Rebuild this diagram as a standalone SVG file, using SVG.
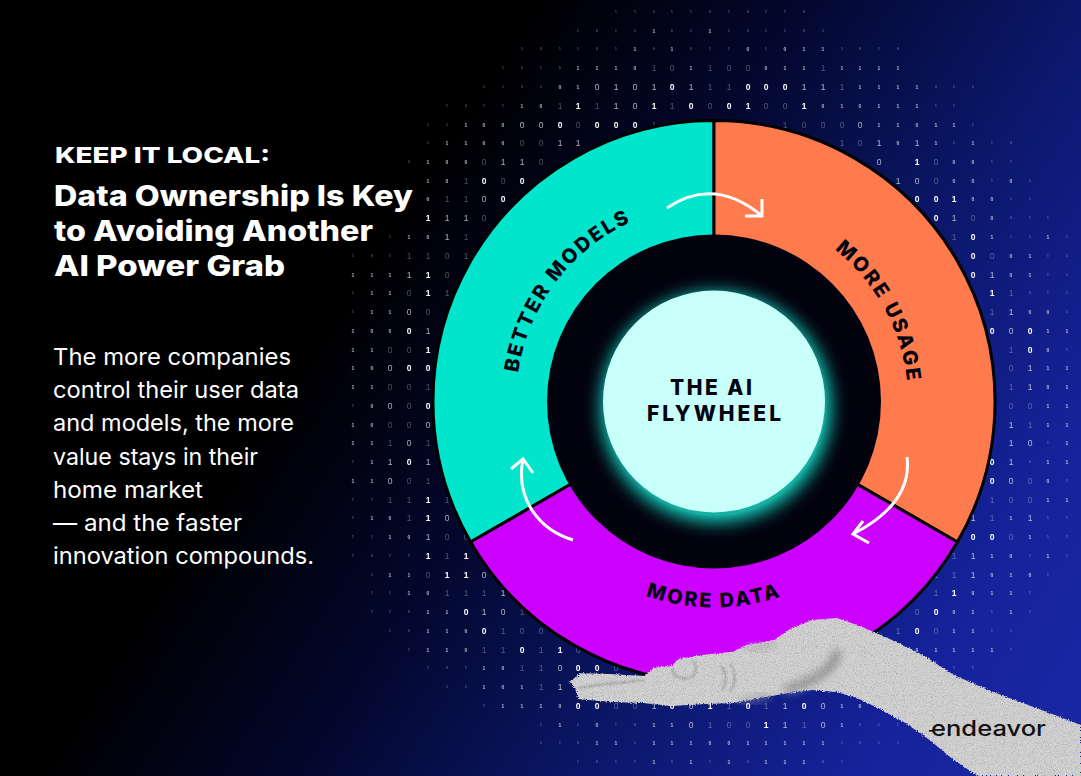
<svg xmlns="http://www.w3.org/2000/svg" width="1081" height="776" viewBox="0 0 1081 776">
<style>
text{font-family:"Inter","Liberation Sans",sans-serif}
#digits{opacity:.995}
#digits text{font-family:"Liberation Sans",sans-serif;fill:#fff;text-anchor:middle;font-size:8.5px}
.a{font-weight:700}
.m{fill-opacity:.68}
.f{fill-opacity:.3}
.c{font-size:5px;font-weight:700;fill-opacity:.68;baseline-shift:1px}
.d{font-size:3.2px;font-weight:700;fill-opacity:.36;baseline-shift:1.8px}
.h{fill:#fff;font-weight:800}
.b{fill:#fff;font-size:23px;font-weight:400}
.lab{font-weight:800;fill:#02020f;font-size:20px;letter-spacing:2.3px;text-anchor:middle}
.hub{font-weight:800;fill:#02020f;font-size:21px;letter-spacing:2px}
.seg{stroke:#000;stroke-width:3;stroke-linejoin:miter}
.flow{fill:none;stroke:#fff;stroke-width:3}
</style>
<defs>
<linearGradient id="bg" gradientUnits="userSpaceOnUse" x1="378" y1="242" x2="1118.6" y2="717.4">
<stop offset="0" stop-color="#000"/><stop offset=".25" stop-color="#03072c"/><stop offset=".52" stop-color="#0b1768"/><stop offset=".78" stop-color="#15229a"/><stop offset="1" stop-color="#1a28a5"/>
</linearGradient>
<radialGradient id="glow" gradientUnits="userSpaceOnUse" cx="716" cy="407" r="135">
<stop offset=".8" stop-color="#14b0a2"/><stop offset=".86" stop-color="#0c7a74" stop-opacity=".75"/><stop offset=".93" stop-color="#06383a" stop-opacity=".35"/><stop offset="1" stop-color="#02020f" stop-opacity="0"/>
</radialGradient>
<filter id="grain" x="-3%" y="-5%" width="106%" height="110%" color-interpolation-filters="sRGB">
<feTurbulence type="fractalNoise" baseFrequency=".8" numOctaves="2" seed="3" result="n"/>
<feDisplacementMap in="SourceGraphic" in2="n" scale="3.5" xChannelSelector="R" yChannelSelector="G" result="d"/>
<feTurbulence type="fractalNoise" baseFrequency="1.1" numOctaves="2" seed="8" result="g"/>
<feColorMatrix in="g" type="matrix" values=".42 0 0 0 .76  .42 0 0 0 .76  .42 0 0 0 .76  0 0 0 0 1" result="gg"/>
<feBlend in="d" in2="gg" mode="multiply" result="m"/>
<feComposite in="m" in2="d" operator="in"/>
</filter>
<filter id="soft" x="-40%" y="-40%" width="180%" height="180%"><feGaussianBlur stdDeviation="4"/></filter>
<filter id="soft2" x="-40%" y="-40%" width="180%" height="180%"><feGaussianBlur stdDeviation=".8"/></filter>
<path id="p-better" d="M518.4 370.5A198 198 0 0 1 630.2 222.1"/>
<path id="p-usage" d="M825.3 242.6A194 194 0 0 1 907.9 394.7"/>
<path id="p-data" d="M627 588.2A206 206 0 0 0 801 588.2"/>
</defs>
<rect id="background" width="1081" height="776" fill="url(#bg)"/>
<g id="digits">
<text y="15"><tspan class="d" x="616 635 654 672 691 710 729 748 766 785 804">11011010110</tspan></text>
<text y="34"><tspan class="d" x="578 597 616 635">1011</tspan><tspan class="c" x="654">1</tspan><tspan class="d" x="672 691">01</tspan><tspan class="c" x="710">1</tspan><tspan class="d" x="729 748 766 785 804 823">101101</tspan></text>
<text y="52"><tspan class="d" x="522 541 560 578 597 616">101101</tspan><tspan class="c" x="635">1</tspan><tspan class="d" x="654">0</tspan><tspan class="c" x="672">1</tspan><tspan class="d" x="691 710 729">011</tspan><tspan class="c" x="748">0</tspan><tspan class="d" x="766">1</tspan><tspan class="c" x="785 804 823">011</tspan><tspan class="d" x="842 860 879 898">1010</tspan></text>
<text y="71"><tspan class="d" x="503 522 541 560">1010</tspan><tspan class="c" x="578 597 616 635">1110</tspan><tspan class="f" x="654 672">10</tspan><tspan class="c" x="691">1</tspan><tspan class="f" x="710 729 748">100</tspan><tspan class="c" x="766 785 804">011</tspan><tspan class="f" x="823">1</tspan><tspan class="c" x="842 860 879 898">1111</tspan></text>
<text y="90"><tspan class="d" x="484 503 522 541">1101</tspan><tspan class="c" x="560 578">01</tspan><tspan class="m" x="597 616 635 654">0101</tspan><tspan class="a" x="672">0</tspan><tspan class="m" x="691">1</tspan><tspan class="f" x="710 729">11</tspan><tspan class="a" x="748 766 785">000</tspan><tspan class="m" x="804 823">11</tspan><tspan class="f" x="842">1</tspan><tspan class="c" x="860 879 898 917">1111</tspan><tspan class="d" x="936 954 973">011</tspan></text>
<text y="109"><tspan class="d" x="447 466 484 503">1011</tspan><tspan class="c" x="522 541">10</tspan><tspan class="f" x="560">1</tspan><tspan class="a" x="578">1</tspan><tspan class="f" x="597">1</tspan><tspan class="m" x="616 635">10</tspan><tspan class="a" x="654">1</tspan><tspan class="f" x="672">1</tspan><tspan class="a" x="691">0</tspan><tspan class="f" x="710">0</tspan><tspan class="a" x="729 748">01</tspan><tspan class="f" x="766 785">00</tspan><tspan class="a" x="804">1</tspan><tspan class="c" x="823 842 860 879 898 917">010111</tspan><tspan class="d" x="936 954">11</tspan></text>
<text y="128"><tspan class="d" x="428 447">11</tspan><tspan class="c" x="466 484 503">100</tspan><tspan class="m" x="522 541">00</tspan><tspan class="a" x="560">0</tspan><tspan class="f" x="578">0</tspan><tspan class="a" x="597 616 635">000</tspan><tspan class="f" x="654">1</tspan><tspan class="f" x="785 804 823 842">1000</tspan><tspan class="m" x="860">0</tspan><tspan class="c" x="879 898 917 936 954">11011</tspan><tspan class="d" x="973">1</tspan></text>
<text y="146"><tspan class="d" x="428">1</tspan><tspan class="c" x="447 466 484 503">1100</tspan><tspan class="f" x="522 541">00</tspan><tspan class="m" x="560 578">11</tspan><tspan class="f" x="842 860">10</tspan><tspan class="m" x="879">1</tspan><tspan class="c" x="898">0</tspan><tspan class="m" x="917">1</tspan><tspan class="c" x="936">1</tspan><tspan class="d" x="954">1</tspan><tspan class="c" x="973">1</tspan><tspan class="d" x="992 1011">10</tspan></text>
<text y="165"><tspan class="d" x="409">0</tspan><tspan class="c" x="428 447 466">100</tspan><tspan class="f" x="484">0</tspan><tspan class="m" x="503 522">11</tspan><tspan class="f" x="541">0</tspan><tspan class="m" x="879">0</tspan><tspan class="a" x="917">1</tspan><tspan class="f" x="936">0</tspan><tspan class="c" x="954 973">00</tspan><tspan class="d" x="992 1011">11</tspan></text>
<text y="184"><tspan class="c" x="428 447">10</tspan><tspan class="f" x="466">1</tspan><tspan class="a" x="484">0</tspan><tspan class="f" x="503">0</tspan><tspan class="a" x="522">0</tspan><tspan class="m" x="898 917">10</tspan><tspan class="f" x="936">0</tspan><tspan class="c" x="954 973">00</tspan><tspan class="d" x="992">1</tspan><tspan class="c" x="1011">0</tspan><tspan class="d" x="1030">1</tspan></text>
<text y="202"><tspan class="c" x="428">0</tspan><tspan class="f" x="447 466">11</tspan><tspan class="m" x="484">0</tspan><tspan class="a" x="503">0</tspan><tspan class="a" x="917 936 954">001</tspan><tspan class="c" x="973 992">00</tspan><tspan class="d" x="1011 1030">11</tspan></text>
<text y="221"><tspan class="a" x="428">1</tspan><tspan class="m" x="447 466">11</tspan><tspan class="f" x="484">0</tspan><tspan class="a" x="936">0</tspan><tspan class="m" x="954">1</tspan><tspan class="f" x="973">0</tspan><tspan class="c" x="992">0</tspan><tspan class="d" x="1011 1030 1048">011</tspan></text>
<text y="240"><tspan class="d" x="390">1</tspan><tspan class="c" x="409 428">10</tspan><tspan class="m" x="447">1</tspan><tspan class="f" x="466">1</tspan><tspan class="f" x="954">1</tspan><tspan class="a" x="973">0</tspan><tspan class="c" x="992">1</tspan><tspan class="d" x="1011 1030">11</tspan><tspan class="c" x="1048">1</tspan><tspan class="d" x="1067">1</tspan></text>
<text y="259"><tspan class="d" x="353 372 390">101</tspan><tspan class="f" x="409 428 447 466">1101</tspan><tspan class="a" x="973">0</tspan><tspan class="f" x="992">0</tspan><tspan class="c" x="1011 1030">01</tspan><tspan class="d" x="1048 1067">11</tspan></text>
<text y="278"><tspan class="c" x="353 372 390">111</tspan><tspan class="m" x="409">1</tspan><tspan class="a" x="428">1</tspan><tspan class="f" x="447">0</tspan><tspan class="a" x="973">0</tspan><tspan class="m" x="992">1</tspan><tspan class="c" x="1011 1030">01</tspan><tspan class="d" x="1048 1067">11</tspan></text>
<text y="296"><tspan class="d" x="353">1</tspan><tspan class="c" x="372 390">11</tspan><tspan class="f" x="409">0</tspan><tspan class="a" x="428">1</tspan><tspan class="f" x="447">1</tspan><tspan class="a" x="992">1</tspan><tspan class="f" x="1011">1</tspan><tspan class="d" x="1030 1048 1067">011</tspan></text>
<text y="315"><tspan class="d" x="353">1</tspan><tspan class="c" x="372 390">11</tspan><tspan class="m" x="409">0</tspan><tspan class="f" x="428">0</tspan><tspan class="f" x="992">1</tspan><tspan class="m" x="1011">1</tspan><tspan class="c" x="1030 1048">00</tspan><tspan class="d" x="1067">1</tspan></text>
<text y="334"><tspan class="c" x="353 372 390">100</tspan><tspan class="a" x="409">0</tspan><tspan class="m" x="428">1</tspan><tspan class="a" x="992">0</tspan><tspan class="m" x="1011">0</tspan><tspan class="a" x="1030">0</tspan><tspan class="c" x="1048 1067">11</tspan></text>
<text y="353"><tspan class="c" x="353 372">11</tspan><tspan class="f" x="390 409">00</tspan><tspan class="a" x="428">1</tspan><tspan class="f" x="1011">1</tspan><tspan class="a" x="1030">0</tspan><tspan class="c" x="1048">0</tspan><tspan class="d" x="1067">1</tspan></text>
<text y="371"><tspan class="c" x="353 372">10</tspan><tspan class="m" x="390">0</tspan><tspan class="a" x="409 428">00</tspan><tspan class="f" x="1011">0</tspan><tspan class="m" x="1030">1</tspan><tspan class="c" x="1048 1067">11</tspan></text>
<text y="390"><tspan class="c" x="353 372">11</tspan><tspan class="f" x="390 409 428">001</tspan><tspan class="f" x="1011">1</tspan><tspan class="m" x="1030">1</tspan><tspan class="c" x="1048 1067">01</tspan></text>
<text y="409"><tspan class="d" x="353">1</tspan><tspan class="c" x="372">0</tspan><tspan class="m" x="390">0</tspan><tspan class="f" x="409">0</tspan><tspan class="a" x="428">0</tspan><tspan class="f" x="1011 1030">00</tspan><tspan class="c" x="1048 1067">11</tspan></text>
<text y="428"><tspan class="c" x="353 372">10</tspan><tspan class="f" x="390 409">00</tspan><tspan class="m" x="428">0</tspan><tspan class="m" x="1011">1</tspan><tspan class="f" x="1030">1</tspan><tspan class="c" x="1048 1067">11</tspan></text>
<text y="446"><tspan class="c" x="353 372">11</tspan><tspan class="f" x="390">1</tspan><tspan class="m" x="409">0</tspan><tspan class="f" x="428">1</tspan><tspan class="m" x="1011 1030">10</tspan><tspan class="d" x="1048">1</tspan><tspan class="c" x="1067">1</tspan></text>
<text y="465"><tspan class="d" x="353">1</tspan><tspan class="c" x="372">1</tspan><tspan class="m" x="390">1</tspan><tspan class="a" x="409">0</tspan><tspan class="m" x="428">1</tspan><tspan class="a" x="992">0</tspan><tspan class="m" x="1011">1</tspan><tspan class="d" x="1030">0</tspan><tspan class="c" x="1048 1067">11</tspan></text>
<text y="484"><tspan class="c" x="353 372">11</tspan><tspan class="m" x="390">0</tspan><tspan class="f" x="409 428">01</tspan><tspan class="a" x="992">0</tspan><tspan class="m" x="1011">0</tspan><tspan class="f" x="1030">0</tspan><tspan class="c" x="1048">0</tspan><tspan class="d" x="1067">1</tspan></text>
<text y="503"><tspan class="d" x="353 372">11</tspan><tspan class="f" x="390 409">11</tspan><tspan class="a" x="428">1</tspan><tspan class="f" x="447">1</tspan><tspan class="f" x="992 1011 1030">100</tspan><tspan class="c" x="1048 1067">11</tspan></text>
<text y="521"><tspan class="d" x="353">1</tspan><tspan class="c" x="372 390">10</tspan><tspan class="f" x="409">1</tspan><tspan class="a" x="428">1</tspan><tspan class="m" x="447">0</tspan><tspan class="m" x="973">1</tspan><tspan class="f" x="992">1</tspan><tspan class="c" x="1011">1</tspan><tspan class="m" x="1030">1</tspan><tspan class="d" x="1048 1067">11</tspan></text>
<text y="540"><tspan class="d" x="353 372">11</tspan><tspan class="c" x="390 409">10</tspan><tspan class="m" x="428">1</tspan><tspan class="f" x="447 466">00</tspan><tspan class="a" x="973 992">00</tspan><tspan class="f" x="1011">0</tspan><tspan class="c" x="1030">1</tspan><tspan class="d" x="1048 1067">11</tspan></text>
<text y="559"><tspan class="d" x="353 372 390 409">1011</tspan><tspan class="a" x="428">1</tspan><tspan class="f" x="447">1</tspan><tspan class="a" x="466">1</tspan><tspan class="f" x="954">1</tspan><tspan class="m" x="973">1</tspan><tspan class="c" x="992 1011">10</tspan><tspan class="d" x="1030">1</tspan><tspan class="c" x="1048">1</tspan><tspan class="d" x="1067">1</tspan></text>
<text y="578"><tspan class="d" x="372">1</tspan><tspan class="c" x="390 409">11</tspan><tspan class="f" x="428">0</tspan><tspan class="a" x="447 466">11</tspan><tspan class="m" x="484">0</tspan><tspan class="f" x="936 954">11</tspan><tspan class="m" x="973">1</tspan><tspan class="c" x="992 1011 1030">010</tspan><tspan class="d" x="1048">1</tspan></text>
<text y="596"><tspan class="d" x="372 390">11</tspan><tspan class="c" x="409 428">10</tspan><tspan class="f" x="447 466 484">111</tspan><tspan class="m" x="503">1</tspan><tspan class="f" x="936">1</tspan><tspan class="a" x="954">1</tspan><tspan class="c" x="973 992 1011">011</tspan><tspan class="d" x="1030">1</tspan></text>
<text y="615"><tspan class="d" x="372 390 409">110</tspan><tspan class="c" x="428 447">11</tspan><tspan class="a" x="466">0</tspan><tspan class="m" x="484 503">10</tspan><tspan class="f" x="522">1</tspan><tspan class="f" x="917">0</tspan><tspan class="a" x="936">0</tspan><tspan class="c" x="954 973">01</tspan><tspan class="d" x="992">1</tspan><tspan class="c" x="1011">1</tspan><tspan class="d" x="1030">1</tspan></text>
<text y="634"><tspan class="d" x="390 409">10</tspan><tspan class="c" x="428 447 466">110</tspan><tspan class="a" x="484">0</tspan><tspan class="f" x="503 522 541">100</tspan><tspan class="f" x="898">1</tspan><tspan class="a" x="917">0</tspan><tspan class="f" x="936">0</tspan><tspan class="c" x="954 973">11</tspan><tspan class="d" x="992 1011">11</tspan></text>
<text y="653"><tspan class="d" x="409">1</tspan><tspan class="c" x="428 447 466">110</tspan><tspan class="f" x="484 503">11</tspan><tspan class="a" x="522">0</tspan><tspan class="f" x="541">1</tspan><tspan class="a" x="560">1</tspan><tspan class="f" x="578">0</tspan><tspan class="c" x="917 936 954 973 992">01111</tspan><tspan class="d" x="1011">1</tspan></text>
<text y="671"><tspan class="d" x="428 447 466">101</tspan><tspan class="c" x="484 503">10</tspan><tspan class="f" x="522 541">11</tspan><tspan class="m" x="560">0</tspan><tspan class="a" x="578 597">00</tspan><tspan class="f" x="616">0</tspan><tspan class="d" x="954 973">11</tspan></text>
<text y="690"><tspan class="d" x="447 466">11</tspan><tspan class="c" x="484 503 522">101</tspan><tspan class="f" x="541">1</tspan><tspan class="m" x="560">1</tspan></text>
<text y="709"><tspan class="d" x="484">1</tspan><tspan class="c" x="503 522 541 560">1110</tspan><tspan class="a" x="578 597">00</tspan><tspan class="f" x="616 635">00</tspan><tspan class="m" x="654">1</tspan><tspan class="a" x="672">0</tspan><tspan class="m" x="691">0</tspan><tspan class="a" x="710">1</tspan><tspan class="f" x="729">1</tspan><tspan class="a" x="748">0</tspan><tspan class="f" x="766">1</tspan><tspan class="m" x="785">1</tspan><tspan class="a" x="804">0</tspan><tspan class="m" x="823">0</tspan><tspan class="c" x="842 860">10</tspan></text>
<text y="728"><tspan class="d" x="541">1</tspan><tspan class="c" x="560">1</tspan><tspan class="d" x="578">1</tspan><tspan class="c" x="597">0</tspan><tspan class="d" x="616 635">10</tspan><tspan class="c" x="654 672">11</tspan><tspan class="m" x="691">0</tspan><tspan class="f" x="710 729 748">100</tspan><tspan class="a" x="766">1</tspan><tspan class="m" x="785">1</tspan><tspan class="f" x="804">1</tspan><tspan class="m" x="823">0</tspan><tspan class="c" x="842">1</tspan><tspan class="d" x="860 879 898">011</tspan></text>
<text y="746"><tspan class="d" x="541 560 578">110</tspan><tspan class="c" x="597 616">11</tspan><tspan class="d" x="635">1</tspan><tspan class="c" x="654 672 691 710 729 748 766 785 804 823">1110011111</tspan><tspan class="d" x="842 860 879 898">1011</tspan></text>
<text y="765"><tspan class="d" x="578 597 616 635">1011</tspan><tspan class="c" x="654">1</tspan><tspan class="d" x="672">0</tspan><tspan class="c" x="691">1</tspan><tspan class="d" x="710">1</tspan><tspan class="c" x="729">1</tspan><tspan class="d" x="748">0</tspan><tspan class="c" x="766 785 804">111</tspan><tspan class="d" x="823 842">01</tspan></text>
</g>
<g id="seg-better-models">
<path class="seg" fill="#00e5cc" d="M714 120.5A281 281 0 0 0 470.6 542L714 401.5Z"/>
<text class="lab"><textPath href="#p-better" startOffset="50%">BETTER MODELS</textPath></text>
</g>
<g id="seg-more-usage">
<path class="seg" fill="#ff7a4d" d="M714 120.5A281 281 0 0 1 957.4 542L714 401.5Z"/>
<text class="lab"><textPath href="#p-usage" startOffset="50%">MORE USAGE</textPath></text>
</g>
<g id="seg-more-data">
<path class="seg" fill="#cc00ff" d="M470.6 542A281 281 0 0 0 957.4 542L714 401.5Z"/>
<text class="lab"><textPath href="#p-data" startOffset="50%">MORE DATA</textPath></text>
</g>
<g id="hub">
<circle cx="714" cy="401.5" r="167" fill="#02020f"/>
<circle cx="716" cy="407" r="135" fill="url(#glow)"/>
<circle cx="714" cy="401.5" r="111" fill="#c8fffb"/>
<text class="hub" x="670" y="395" textLength="84">THE AI</text>
<text class="hub" x="647" y="420.5" textLength="136">FLYWHEEL</text>
</g>
<g id="connectors">
<path class="flow" d="M667 208Q714 176 762 216M745 216H762V199"/>
<path class="flow" d="M907 457C911 490 890 515 853 534M863 521L853 534L869 543"/>
<path class="flow" d="M573 540C540 530 515 500 523 459M511 469L523 459L533 473"/>
</g>
<g id="hand" filter="url(#grain)">
<path fill="#d4d4d4" d="M569.3 681.7L581.4 673.3L609 674L643.4 676L653.8 668L672.8 665L678 659L702 655L733 651.7L747 645L774.5 640L791.7 628L812.4 620L836.6 618L857 625L876 633L898.6 643L922.8 655L953.8 675L988 690L1022.8 703L1081 725V776H978L953.8 760L929.7 740L905.5 723L878 708L857 698L836.6 692L812.4 690L788 693L760.7 698L733 703L705.5 704L671 706L643.4 703L612.4 702L578 699L576 690Z"/>
<path fill="none" stroke="#666" stroke-width="8" opacity=".6" filter="url(#soft)" d="M838 650C835 668 815 682 785 690"/>
<path fill="none" stroke="#777" stroke-width="4" opacity=".6" filter="url(#soft)" d="M740 702L770 695"/>
<path fill="none" stroke="#999" stroke-width="6" opacity=".5" filter="url(#soft)" d="M745 650L775 644"/>
<path fill="none" stroke="#8a8a8a" stroke-width="1.2" filter="url(#soft2)" d="M673 668C672 676 680 680 690 678C697 675 698 664 692 661M721 666C727 672 727 684 722 690M730 664C736 672 736 684 730 692M578 688C600 684 625 682 645 680"/>
</g>
<g id="logo">
<rect x="929" y="730" width="6" height="1.6" fill="#111"/>
<text x="931" y="736" font-size="21" font-weight="500" fill="#111" textLength="115" lengthAdjust="spacingAndGlyphs">endeavor</text>
</g>
<g id="heading">
<text class="h" x="55" y="163" font-size="22" textLength="215" lengthAdjust="spacingAndGlyphs">KEEP IT LOCAL:</text>
<text class="h" x="54" y="206" font-size="28" textLength="359" lengthAdjust="spacingAndGlyphs">Data Ownership Is Key</text>
<text class="h" x="54" y="241" font-size="28" textLength="319" lengthAdjust="spacingAndGlyphs">to Avoiding Another</text>
<text class="h" x="54" y="276" font-size="28" textLength="231" lengthAdjust="spacingAndGlyphs">AI Power Grab</text>
</g>
<g id="body">
<text class="b" x="53" y="364.5" textLength="238" lengthAdjust="spacingAndGlyphs">The more companies</text>
<text class="b" x="53" y="398" textLength="246" lengthAdjust="spacingAndGlyphs">control their user data</text>
<text class="b" x="53" y="431" textLength="241" lengthAdjust="spacingAndGlyphs">and models, the more</text>
<text class="b" x="53" y="464.5" textLength="205" lengthAdjust="spacingAndGlyphs">value stays in their</text>
<text class="b" x="53" y="498" textLength="150" lengthAdjust="spacingAndGlyphs">home market</text>
<text class="b" x="53" y="531" textLength="189" lengthAdjust="spacingAndGlyphs">— and the faster</text>
<text class="b" x="53" y="564" textLength="261" lengthAdjust="spacingAndGlyphs">innovation compounds.</text>
</g>
</svg>
